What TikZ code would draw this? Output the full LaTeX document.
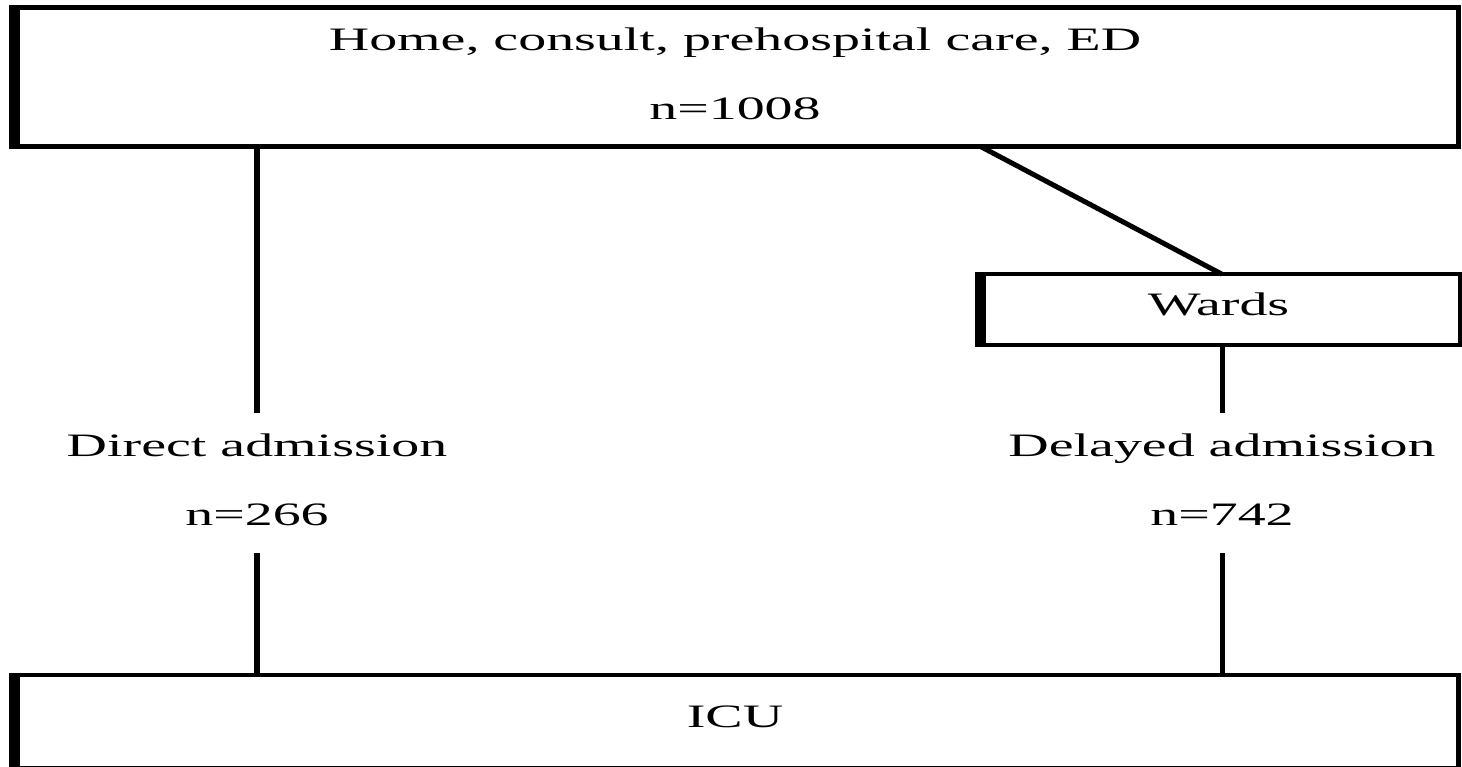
\documentclass[tikz,border=0pt]{standalone}
\usepackage{fontspec}
\setmainfont{Liberation Serif}[FakeStretch=1.71]
\usetikzlibrary{positioning}

\begin{document}
\begin{tikzpicture}[x=0.01cm,y=-0.01cm,
    box/.style={draw, line width=0.045cm, outer sep=0pt, inner sep=0pt,
      font=\fontsize{9.3}{19.64}\selectfont, align=center, text depth=0.065cm},
    group/.style={outer sep=0pt, inner sep=0pt, minimum height=1.4cm,
      font=\fontsize{9.3}{19.64}\selectfont, align=center, text depth=0.06cm},
    link/.style={line width=0.05cm}]
    \useasboundingbox (0,0) rectangle (1462,767);

    % Define boxes
    \node[box, minimum width=14.46cm, minimum height=1.385cm] (top) at (735,77)
      {Home, consult, prehospital care, ED\\n=1008};
    \node[box, minimum width=4.825cm, minimum height=0.705cm,
      text height=0.226cm, text depth=0.1cm] (wards) at (1218.5,309.5) {Wards};
    \node[box, minimum width=14.46cm, minimum height=0.9275cm,
      text height=0.226cm, text depth=0.1cm] (icu) at (735,721.6) {ICU};

    % Thick left edges
    \fill ([xshift=-0.0225cm]top.north west) rectangle ([xshift=0.08cm]top.south west);
    \fill ([xshift=-0.0225cm]wards.north west) rectangle ([xshift=0.09cm]wards.south west);
    \fill ([xshift=-0.0225cm]icu.north west) rectangle ([xshift=0.08cm]icu.south west);

    % Admission groups
    \node[group] (direct) at (257,483) {Direct admission\\n=266};
    \node[group] (delayed) at (1222,483) {Delayed admission\\n=742};

    % Draw lines between boxes
    \draw[link] (top.south -| direct.north) -- (direct.north);
    \draw[link] (direct.south) -- (icu.north -| direct.south);
    \draw[link] ([xshift=-4.78cm]top.south east) -- (wards.north -| delayed.north);
    \draw[link] (wards.south -| delayed.north) -- (delayed.north);
    \draw[link] (delayed.south) -- (icu.north -| delayed.south);
\end{tikzpicture}
\end{document}
